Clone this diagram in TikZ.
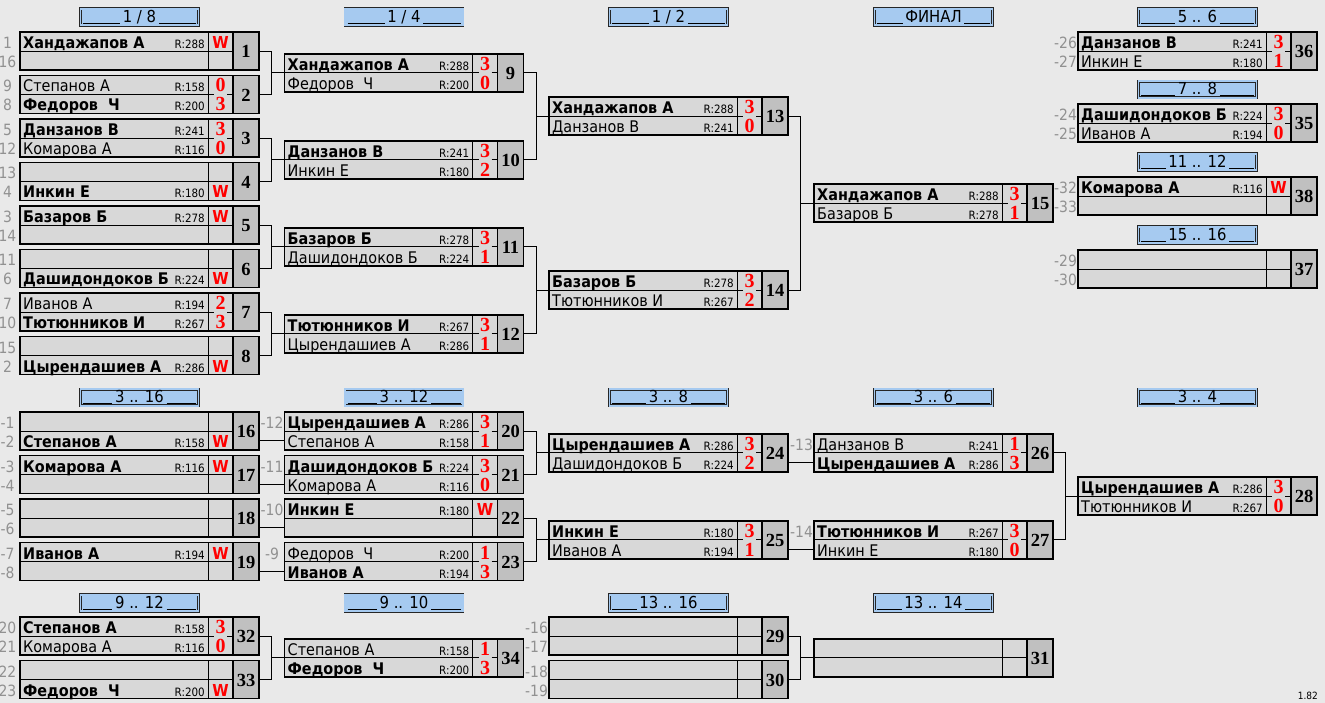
\documentclass[tikz,border=0pt]{standalone}
\usepackage{fontspec}
\setmainfont{Liberation Serif}
\newfontfamily\tf{DejaVu Sans}[FakeStretch=0.9]
\usetikzlibrary{calc}
\definecolor{bg}{RGB}{233,233,233}
\definecolor{cell}{RGB}{216,216,216}
\definecolor{numc}{RGB}{192,192,192}
\definecolor{hdrc}{RGB}{166,202,240}
\definecolor{seedc}{RGB}{145,145,145}
\definecolor{scr}{RGB}{255,0,0}
\def\ul{\leaders\hrule height -0.5pt depth 1.5pt\hfill}
\newcommand\W{{\fontsize{16.5}{16}\tf\bfseries W}}
\tikzset{
  frame/.style={draw, line width=1.8pt, fill=cell, minimum width=239pt, minimum height=38pt, inner sep=0pt, outer sep=0pt, anchor=north west},
  frm/.style={line width=1.8pt},
  inl/.style={line width=0.9pt},
  conn/.style={line width=0.9pt},
  nameb/.style={font={\fontsize{16}{17}\tf\bfseries}, inner sep=0pt, anchor=base west},
  namen/.style={font={\fontsize{16}{17}\tf}, inner sep=0pt, anchor=base west},
  rat/.style={font={\fontsize{11.5}{12}\tf}, inner sep=0pt, anchor=base east},
  score/.style={font={\fontsize{20}{20}\selectfont\rmfamily\bfseries}, text=scr, inner sep=0pt, anchor=base},
  numtxt/.style={font={\fontsize{18.5}{18}\selectfont\rmfamily\bfseries}, inner sep=0pt},
  seed/.style={font={\fontsize{15.5}{16}\tf}, text=seedc, inner sep=0pt, anchor=base},
  hdrs/.style={draw=black!85, line width=0.6pt, double=hdrc, double distance=1.6pt, fill=hdrc, minimum width=118pt, minimum height=16.5pt, inner sep=0pt, font={\fontsize{16.5}{17}\tf}},
}
\newcommand\Match[4]{%
  \coordinate (o#1) at (#2,#3);
  \coordinate (rb#1) at ([shift={(0,28.5)}]o#1);
  \node[frame] (m#1) at (o#1) {};
  \fill[numc] ([shift={(213,0)}]o#1) rectangle ([shift={(239,38)}]o#1);
  \draw[inl] ([shift={(188,0)}]o#1) -- ([shift={(188,38)}]o#1);
  \draw[inl] ([shift={(0,19)}]o#1) -- ([shift={(188,19)}]o#1);
  \draw[frm] ([shift={(213,0)}]o#1) -- ([shift={(213,38)}]o#1);
  \draw[frm] (m#1.north west) rectangle (m#1.south east);
  \node[numtxt] (n#1) at ([shift={(226,19.5)}]o#1) {#4};
}
\newcommand\Full[1]{\draw[inl] ([shift={(188,19)}]o#1) -- ([shift={(213,19)}]o#1);}
\newcommand\Stub[1]{\draw[inl] ([shift={(188,19)}]o#1) -- ([shift={(194,19)}]o#1);
  \draw[inl] ([shift={(207,19)}]o#1) -- ([shift={(213,19)}]o#1);}
\newcommand\Pl[6]{%
  \if#2a\def\yy{16.5}\else\def\yy{35.5}\fi
  \node[name#3] (p#1#2) at ([shift={(3,\yy)}]o#1) {#4};
  \node[rat] (r#1#2) at ([shift={(185,\yy)}]o#1) {R:#5};
  \node[score] (s#1#2) at ([shift={(200.5,\yy)}]o#1) {#6};
}
\newcommand\Sd[3]{%
  \if#2a\def\yy{16.5}\else\def\yy{35.5}\fi
  \node[seed] (sd#1#2) at ([shift={(-12.5,\yy)}]o#1) {#3};
}
\newcommand\Hd[4]{\node[hdrs] (#1) at (#2,#3) {\hbox to 113pt{\ul\,#4\,\ul}};}
\newcommand\Br[3]{\draw[conn] (m#1.east) -- ++(12.75,0) coordinate (k#3) |- (m#2.east);
  \draw[conn] (m#3.west) -- (k#3 |- m#3.west);}
\newcommand\Rb[2]{\draw[conn] (rb#2 -| m#1.east) -- (rb#2);}
\begin{document}
\begin{tikzpicture}[x=1pt,y=-1pt]
\fill[bg] (0,0) rectangle (1325,703);
\useasboundingbox (0,0) rectangle (1325,703);
% headers
\Hd{h18}{139.5}{17}{1 / 8}
\Hd{h14}{404}{17}{1 / 4}
\Hd{h12}{668.5}{17}{1 / 2}
\Hd{hfin}{933.5}{17}{ФИНАЛ}
\Hd{h56}{1197.5}{17}{5 .. 6}
\Hd{h78}{1197.5}{89.5}{7 .. 8}
\Hd{h1112}{1197.5}{162}{11 .. 12}
\Hd{h1516}{1197.5}{235}{15 .. 16}
\Hd{h316}{139.5}{397.5}{3 .. 16}
\Hd{h312}{404}{397.5}{3 .. 12}
\Hd{h38}{668.5}{397.5}{3 .. 8}
\Hd{h36}{933.5}{397.5}{3 .. 6}
\Hd{h34}{1197.5}{397.5}{3 .. 4}
\Hd{h912}{139.5}{603}{9 .. 12}
\Hd{h910}{404}{603}{9 .. 10}
\Hd{h1316}{668.5}{603}{13 .. 16}
\Hd{h1314}{933.5}{603}{13 .. 14}
% ---- 1/8
\Match{1}{20}{32}{1}\Full{1}\Sd{1}{a}{1}\Sd{1}{b}{16}
\Pl{1}{a}{b}{Хандажапов А}{288}{\W}
\Match{2}{20}{75.5}{2}\Stub{2}\Sd{2}{a}{9}\Sd{2}{b}{8}
\Pl{2}{a}{n}{Степанов А}{158}{0}
\Pl{2}{b}{b}{Федоров\ \ Ч}{200}{3}
\Match{3}{20}{119}{3}\Stub{3}\Sd{3}{a}{5}\Sd{3}{b}{12}
\Pl{3}{a}{b}{Данзанов В}{241}{3}
\Pl{3}{b}{n}{Комарова А}{116}{0}
\Match{4}{20}{162.5}{4}\Full{4}\Sd{4}{a}{13}\Sd{4}{b}{4}
\Pl{4}{b}{b}{Инкин Е}{180}{\W}
\Match{5}{20}{206}{5}\Full{5}\Sd{5}{a}{3}\Sd{5}{b}{14}
\Pl{5}{a}{b}{Базаров Б}{278}{\W}
\Match{6}{20}{249.5}{6}\Full{6}\Sd{6}{a}{11}\Sd{6}{b}{6}
\Pl{6}{b}{b}{Дашидондоков Б}{224}{\W}
\Match{7}{20}{293}{7}\Stub{7}\Sd{7}{a}{7}\Sd{7}{b}{10}
\Pl{7}{a}{n}{Иванов А}{194}{2}
\Pl{7}{b}{b}{Тютюнников И}{267}{3}
\Match{8}{20}{336.5}{8}\Full{8}\Sd{8}{a}{15}\Sd{8}{b}{2}
\Pl{8}{b}{b}{Цырендашиев А}{286}{\W}
% ---- 1/4
\Match{9}{284.5}{53.75}{9}\Stub{9}
\Pl{9}{a}{b}{Хандажапов А}{288}{3}
\Pl{9}{b}{n}{Федоров\ \ Ч}{200}{0}
\Match{10}{284.5}{140.75}{10}\Stub{10}
\Pl{10}{a}{b}{Данзанов В}{241}{3}
\Pl{10}{b}{n}{Инкин Е}{180}{2}
\Match{11}{284.5}{227.75}{11}\Stub{11}
\Pl{11}{a}{b}{Базаров Б}{278}{3}
\Pl{11}{b}{n}{Дашидондоков Б}{224}{1}
\Match{12}{284.5}{314.75}{12}\Stub{12}
\Pl{12}{a}{b}{Тютюнников И}{267}{3}
\Pl{12}{b}{n}{Цырендашиев А}{286}{1}
% ---- 1/2
\Match{13}{549}{97.25}{13}\Stub{13}
\Pl{13}{a}{b}{Хандажапов А}{288}{3}
\Pl{13}{b}{n}{Данзанов В}{241}{0}
\Match{14}{549}{271.25}{14}\Stub{14}
\Pl{14}{a}{b}{Базаров Б}{278}{3}
\Pl{14}{b}{n}{Тютюнников И}{267}{2}
% ---- final
\Match{15}{814}{184.25}{15}\Stub{15}
\Pl{15}{a}{b}{Хандажапов А}{288}{3}
\Pl{15}{b}{n}{Базаров Б}{278}{1}
% ---- places column
\Match{36}{1078}{32}{36}\Stub{36}\Sd{36}{a}{-26}\Sd{36}{b}{-27}
\Pl{36}{a}{b}{Данзанов В}{241}{3}
\Pl{36}{b}{n}{Инкин Е}{180}{1}
\Match{35}{1078}{104}{35}\Stub{35}\Sd{35}{a}{-24}\Sd{35}{b}{-25}
\Pl{35}{a}{b}{Дашидондоков Б}{224}{3}
\Pl{35}{b}{n}{Иванов А}{194}{0}
\Match{38}{1078}{177}{38}\Full{38}\Sd{38}{a}{-32}\Sd{38}{b}{-33}
\Pl{38}{a}{b}{Комарова А}{116}{\W}
\Match{37}{1078}{250}{37}\Full{37}\Sd{37}{a}{-29}\Sd{37}{b}{-30}
% ---- 3..16
\Match{16}{20}{412}{16}\Full{16}\Sd{16}{a}{-1}\Sd{16}{b}{-2}
\Pl{16}{b}{b}{Степанов А}{158}{\W}
\Match{17}{20}{455.5}{17}\Full{17}\Sd{17}{a}{-3}\Sd{17}{b}{-4}
\Pl{17}{a}{b}{Комарова А}{116}{\W}
\Match{18}{20}{499}{18}\Full{18}\Sd{18}{a}{-5}\Sd{18}{b}{-6}
\Match{19}{20}{542.5}{19}\Full{19}\Sd{19}{a}{-7}\Sd{19}{b}{-8}
\Pl{19}{a}{b}{Иванов А}{194}{\W}
% ---- 3..12
\Match{20}{284.5}{412}{20}\Stub{20}\Sd{20}{a}{-12}
\Pl{20}{a}{b}{Цырендашиев А}{286}{3}
\Pl{20}{b}{n}{Степанов А}{158}{1}
\Match{21}{284.5}{455.5}{21}\Stub{21}\Sd{21}{a}{-11}
\Pl{21}{a}{b}{Дашидондоков Б}{224}{3}
\Pl{21}{b}{n}{Комарова А}{116}{0}
\Match{22}{284.5}{499}{22}\Full{22}\Sd{22}{a}{-10}
\Pl{22}{a}{b}{Инкин Е}{180}{\W}
\Match{23}{284.5}{542.5}{23}\Stub{23}\Sd{23}{a}{-9}
\Pl{23}{a}{n}{Федоров\ \ Ч}{200}{1}
\Pl{23}{b}{b}{Иванов А}{194}{3}
% ---- 3..8
\Match{24}{549}{433.75}{24}\Stub{24}
\Pl{24}{a}{b}{Цырендашиев А}{286}{3}
\Pl{24}{b}{n}{Дашидондоков Б}{224}{2}
\Match{25}{549}{520.75}{25}\Stub{25}
\Pl{25}{a}{b}{Инкин Е}{180}{3}
\Pl{25}{b}{n}{Иванов А}{194}{1}
% ---- 3..6
\Match{26}{814}{433.75}{26}\Stub{26}\Sd{26}{a}{-13}
\Pl{26}{a}{n}{Данзанов В}{241}{1}
\Pl{26}{b}{b}{Цырендашиев А}{286}{3}
\Match{27}{814}{520.75}{27}\Stub{27}\Sd{27}{a}{-14}
\Pl{27}{a}{b}{Тютюнников И}{267}{3}
\Pl{27}{b}{n}{Инкин Е}{180}{0}
% ---- 3..4
\Match{28}{1078}{477.25}{28}\Stub{28}
\Pl{28}{a}{b}{Цырендашиев А}{286}{3}
\Pl{28}{b}{n}{Тютюнников И}{267}{0}
% ---- 9..12
\Match{32}{20}{617}{32}\Stub{32}\Sd{32}{a}{20}\Sd{32}{b}{21}
\Pl{32}{a}{b}{Степанов А}{158}{3}
\Pl{32}{b}{n}{Комарова А}{116}{0}
\Match{33}{20}{660.5}{33}\Full{33}\Sd{33}{a}{22}\Sd{33}{b}{23}
\Pl{33}{b}{b}{Федоров\ \ Ч}{200}{\W}
\Match{34}{284.5}{638.75}{34}\Stub{34}
\Pl{34}{a}{n}{Степанов А}{158}{1}
\Pl{34}{b}{b}{Федоров\ \ Ч}{200}{3}
% ---- 13..16
\Match{29}{549}{617}{29}\Full{29}\Sd{29}{a}{-16}\Sd{29}{b}{-17}
\Match{30}{549}{660.5}{30}\Full{30}\Sd{30}{a}{-18}\Sd{30}{b}{-19}
\Match{31}{814}{638.75}{31}\Full{31}
% connectors
\Br{1}{2}{9}\Br{3}{4}{10}\Br{5}{6}{11}\Br{7}{8}{12}
\Br{9}{10}{13}\Br{11}{12}{14}\Br{13}{14}{15}
\Rb{16}{20}\Rb{17}{21}\Rb{18}{22}\Rb{19}{23}
\Br{20}{21}{24}\Br{22}{23}{25}
\Rb{24}{26}\Rb{25}{27}
\Br{26}{27}{28}
\Br{32}{33}{34}\Br{29}{30}{31}
\node[font={\fontsize{10}{11}\tf}, inner sep=0pt, anchor=base east] (ver) at (1318,699) {1.82};
\end{tikzpicture}
\end{document}
